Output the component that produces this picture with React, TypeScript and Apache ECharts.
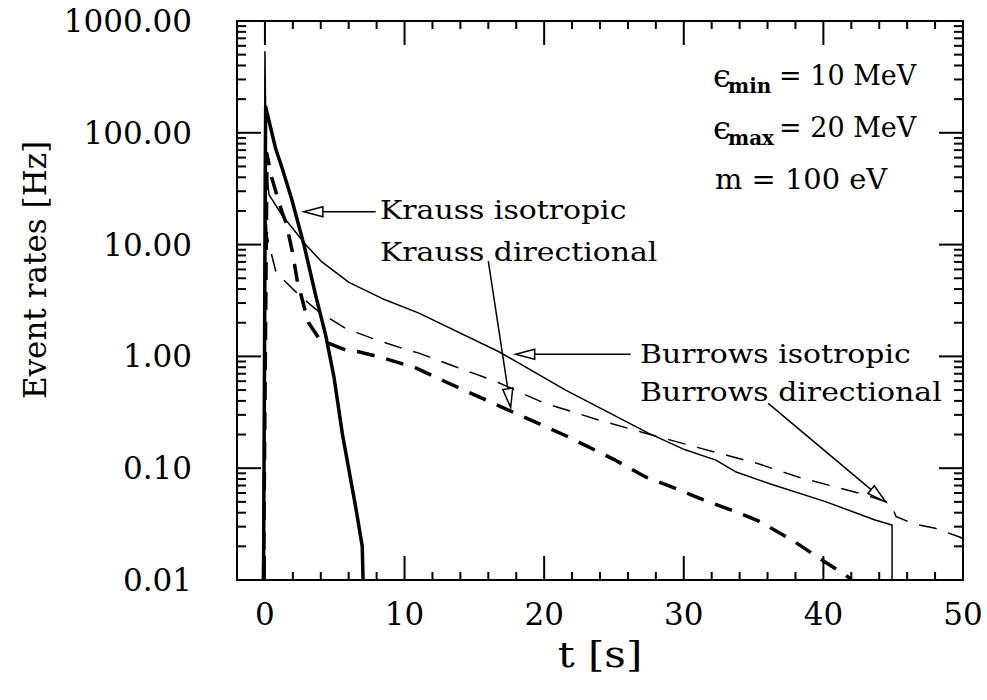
import { useEffect, useRef } from "react";
import * as echarts from "echarts";

// Event rates [Hz] versus time t [s]: [t, rate]
const kraussIsotropic: [number, number][] = [
  [-0.1, 0.01], [0.05, 171], [0.77, 72], [1.24, 48], [1.9, 26], [2.8, 9.9],
  [3.63, 3.54], [4.35, 1.55], [4.94, 0.66], [5.54, 0.205], [6.5, 0.045],
  [6.97, 0.02], [7.03, 0.01],
];

const kraussDirectional: [number, number][] = [
  [-0.1, 0.01], [0.15, 65], [0.43, 42], [0.79, 29.5], [1.2, 20], [1.52, 15.5],
  [1.96, 8.7], [2.31, 4.8], [2.87, 2.6], [3.15, 1.98], [3.87, 1.45], [4.58, 1.31],
  [5.78, 1.14], [6.7, 1.1], [8.2, 0.99], [10.8, 0.79], [12.97, 0.59], [17.7, 0.32],
  [21.56, 0.195], [25.1, 0.118], [27.3, 0.083], [28.9, 0.07], [31.1, 0.054],
  [33.45, 0.042], [35.3, 0.034], [37.75, 0.0228], [39.9, 0.0151], [41.8, 0.0106],
  [42.0, 0.01],
];

const burrowsIsotropic: [number, number][] = [
  [-0.1, 0.01], [0.0, 530], [0.1, 45], [0.29, 28], [1.22, 18.4], [2.94, 9.9],
  [4.08, 7.0], [6.02, 4.6], [8.38, 3.3], [11.03, 2.44], [16.76, 1.1], [21.54, 0.5],
  [27.5, 0.205], [30.1, 0.146], [32.3, 0.118], [33.7, 0.093], [36.1, 0.073],
  [40.2, 0.05], [43.7, 0.0344], [44.92, 0.031], [44.92, 0.01],
];

const burrowsDirectional: [number, number][] = [
  [-0.1, 0.01], [0.02, 40], [0.14, 12.2], [0.43, 8.6], [0.79, 5.7], [1.22, 5.0],
  [2.44, 3.54], [3.87, 2.5], [5.78, 1.78], [7.69, 1.45], [9.84, 1.18], [11.03, 1.07],
  [13.5, 0.82], [16.5, 0.6], [19.9, 0.387], [23.9, 0.27], [27, 0.21], [31.1, 0.152],
  [35.2, 0.111], [38.25, 0.083], [43.05, 0.0575], [44.5, 0.05], [44.9, 0.046],
  [45.2, 0.037], [46.4, 0.032], [48, 0.029], [49.7, 0.0244], [50, 0.0235],
];

// Axis ticks and labels
const xTickValues = [0, 10, 20, 30, 40, 50];
const xTickLabels = ["0", "10", "20", "30", "40", "50"];
const xMinorTicks = [2, 4, 6, 8, 12, 14, 16, 18, 22, 24, 26, 28, 32, 34, 36, 38, 42, 44, 46, 48];
const yTickValues = [0.01, 0.1, 1, 10, 100, 1000];
const yTickLabels = ["0.01", "0.10", "1.00", "10.00", "100.00", "1000.00"];
const yMinorTicks: number[] = [
  0.02, 0.03, 0.04, 0.05, 0.06, 0.07, 0.08, 0.09,
  0.2, 0.3, 0.4, 0.5, 0.6, 0.7, 0.8, 0.9,
  2, 3, 4, 5, 6, 7, 8, 9,
  20, 30, 40, 50, 60, 70, 80, 90,
  200, 300, 400, 500, 600, 700, 800, 900,
];

// Arrow annotations in data coordinates: [tail, tip]
const arrows: [[number, number], [number, number]][] = [
  [[7.93, 19.7], [2.79, 19.7]],
  [[16.0, 7.13], [17.6, 0.349]],
  [[26.2, 1.045], [17.96, 1.045]],
  [[36.05, 0.38], [44.46, 0.05]],
];

const FONT = '"DejaVu Serif", serif';

function tickSeries(values: number[], axis: "x" | "y", len: number) {
  return {
    type: "custom",
    silent: true,
    clip: false,
    z: 10,
    data: values.map((v) => (axis === "x" ? [v, 1] : [0, v])),
    renderItem: (params: any, api: any) => {
      const cs = params.coordSys;
      const style = { stroke: "#000", lineWidth: 2 };
      if (axis === "x") {
        const p = api.coord([api.value(0), 1]);
        const bottom = cs.y + cs.height;
        return {
          type: "group",
          children: [
            { type: "line", shape: { x1: p[0], y1: bottom, x2: p[0], y2: bottom - len }, style },
            { type: "line", shape: { x1: p[0], y1: cs.y, x2: p[0], y2: cs.y + len }, style },
          ],
        };
      }
      const p = api.coord([0, api.value(1)]);
      const right = cs.x + cs.width;
      return {
        type: "group",
        children: [
          { type: "line", shape: { x1: cs.x, y1: p[1], x2: cs.x + len, y2: p[1] }, style },
          { type: "line", shape: { x1: right, y1: p[1], x2: right - len, y2: p[1] }, style },
        ],
      };
    },
  };
}

function lineSeries(name: string, data: [number, number][], width: number, dashed: boolean) {
  return {
    name,
    type: "line",
    data,
    showSymbol: false,
    symbol: "none",
    silent: true,
    clip: true,
    z: 3,
    lineStyle: { color: "#000", width, type: dashed ? [18, 12] : "solid", cap: "butt", join: "round" },
  };
}

function arrowGraphic(tail: number[], tip: number[]) {
  const dx = tip[0] - tail[0];
  const dy = tip[1] - tail[1];
  const L = Math.hypot(dx, dy);
  const ux = dx / L;
  const uy = dy / L;
  const hl = 19;
  const hw = 5;
  const bx = tip[0] - ux * hl;
  const by = tip[1] - uy * hl;
  return [
    {
      type: "line",
      shape: { x1: tail[0], y1: tail[1], x2: bx, y2: by },
      style: { stroke: "#000", lineWidth: 1.5 },
      z: 20,
    },
    {
      type: "polygon",
      shape: {
        points: [
          [tip[0], tip[1]],
          [bx - uy * hw, by + ux * hw],
          [bx + uy * hw, by - ux * hw],
        ],
      },
      style: { fill: "#fff", stroke: "#000", lineWidth: 1.5 },
      z: 20,
    },
  ];
}

function label(
  text: string,
  x: number,
  y: number,
  size = 26,
  scaleX = 1,
  opts: { weight?: string; align?: string; rotation?: number } = {}
) {
  return {
    type: "text",
    x,
    y,
    scaleX,
    rotation: opts.rotation ?? 0,
    z: 20,
    style: {
      text,
      fill: "#000",
      fontSize: size,
      fontFamily: FONT,
      fontWeight: opts.weight ?? "normal",
      align: opts.align ?? "left",
      verticalAlign: "middle",
    },
  };
}

export default function App() {
  const ref = useRef<HTMLDivElement>(null);

  useEffect(() => {
    if (!ref.current) return;
    const chart = echarts.init(ref.current, undefined, { renderer: "svg" });

    const option: any = {
      animation: false,
      backgroundColor: "#fff",
      grid: {
        left: 237,
        right: 24,
        top: 21,
        bottom: 120,
        show: true,
        borderColor: "#000",
        borderWidth: 2,
        backgroundColor: "transparent",
      },
      xAxis: {
        type: "value",
        min: -2,
        max: 50,
        axisLine: { show: false },
        axisTick: { show: false },
        splitLine: { show: false },
        axisLabel: {
          customValues: xTickValues,
          formatter: (v: number) => {
            const i = xTickValues.indexOf(v);
            return i >= 0 ? xTickLabels[i] : "";
          },
          fontSize: 31,
          fontFamily: FONT,
          color: "#000",
          margin: 18,
        },
      },
      yAxis: {
        type: "log",
        logBase: 10,
        min: 0.01,
        max: 1000,
        axisLine: { show: false },
        axisTick: { show: false },
        minorTick: { show: false },
        splitLine: { show: false },
        axisLabel: {
          customValues: yTickValues,
          formatter: (v: number) => {
            const i = Math.round(Math.log10(v)) + 2;
            return yTickLabels[i] ?? "";
          },
          fontSize: 31,
          fontFamily: FONT,
          color: "#000",
          margin: 45,
        },
      },
      series: [
        lineSeries("Krauss isotropic", kraussIsotropic, 3.5, false),
        lineSeries("Krauss directional", kraussDirectional, 3.5, true),
        lineSeries("Burrows isotropic", burrowsIsotropic, 1.5, false),
        lineSeries("Burrows directional", burrowsDirectional, 1.5, true),
        tickSeries(xTickValues, "x", 24),
        tickSeries(xMinorTicks, "x", 8),
        tickSeries(yTickValues, "y", 24),
        tickSeries(yMinorTicks, "y", 9),
      ],
    };
    chart.setOption(option);

    const toPx = (p: [number, number]) =>
      chart.convertToPixel({ xAxisIndex: 0, yAxisIndex: 0 }, p) as number[];

    const graphics: any[] = [];
    arrows.forEach(([tail, tip]) => {
      graphics.push(...arrowGraphic(toPx(tail), toPx(tip)));
    });
    graphics.push(
      // axis titles
      label("t [s]", 600, 655, 35, 1.2, { align: "center" }),
      label("Event rates [Hz]", 35, 270, 31, 1, { align: "center", rotation: Math.PI / 2 }),
      // curve labels
      label("Krauss isotropic", 380, 210, 26, 1.15),
      label("Krauss directional", 380, 252, 26, 1.15),
      label("Burrows isotropic", 640, 354, 26, 1.15),
      label("Burrows directional", 640, 392, 26, 1.15),
      // parameters
      label("ϵ", 713, 76, 32),
      label("min", 728, 86, 20, 1, { weight: "bold" }),
      label("= 10 MeV", 779, 75, 27),
      label("ϵ", 713, 128, 32),
      label("max", 728, 138, 20, 1, { weight: "bold" }),
      label("= 20 MeV", 779, 127, 27),
      label("m = 100 eV", 715, 180, 27, 1.07)
    );
    chart.setOption({ graphic: graphics });

    return () => chart.dispose();
  }, []);

  return (
    <div
      ref={ref}
      style={{ position: "fixed", left: 0, top: 0, width: 987, height: 700, background: "#fff" }}
    />
  );
}
